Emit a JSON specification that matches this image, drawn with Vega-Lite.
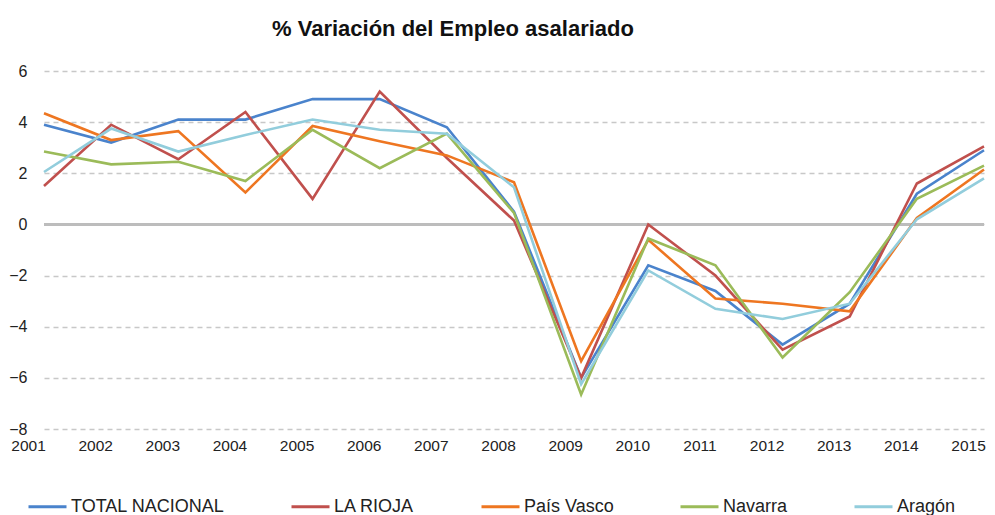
{
  "$schema": "https://vega.github.io/schema/vega-lite/v6.json",
  "autosize": "none",
  "width": 940,
  "height": 358,
  "padding": {"left": 44, "top": 71, "right": 11, "bottom": 86},
  "background": "white",
  "config": {
    "view": {"stroke": null},
    "font": "Liberation Sans"
  },
  "title": {
    "text": "% Variación del Empleo asalariado",
    "fontSize": 22,
    "fontWeight": "bold",
    "color": "#111111",
    "anchor": "middle",
    "dx": -61,
    "offset": 22
  },
  "data": {
    "values": [
      {"year": "2001", "serie": "TOTAL NACIONAL", "value": 3.9},
      {"year": "2002", "serie": "TOTAL NACIONAL", "value": 3.2},
      {"year": "2003", "serie": "TOTAL NACIONAL", "value": 4.1},
      {"year": "2004", "serie": "TOTAL NACIONAL", "value": 4.1},
      {"year": "2005", "serie": "TOTAL NACIONAL", "value": 4.9},
      {"year": "2006", "serie": "TOTAL NACIONAL", "value": 4.9},
      {"year": "2007", "serie": "TOTAL NACIONAL", "value": 3.8},
      {"year": "2008", "serie": "TOTAL NACIONAL", "value": 0.5},
      {"year": "2009", "serie": "TOTAL NACIONAL", "value": -6.0},
      {"year": "2010", "serie": "TOTAL NACIONAL", "value": -1.6},
      {"year": "2011", "serie": "TOTAL NACIONAL", "value": -2.6},
      {"year": "2012", "serie": "TOTAL NACIONAL", "value": -4.7},
      {"year": "2013", "serie": "TOTAL NACIONAL", "value": -3.1},
      {"year": "2014", "serie": "TOTAL NACIONAL", "value": 1.2},
      {"year": "2015", "serie": "TOTAL NACIONAL", "value": 2.9},
      {"year": "2001", "serie": "LA RIOJA", "value": 1.5},
      {"year": "2002", "serie": "LA RIOJA", "value": 3.9},
      {"year": "2003", "serie": "LA RIOJA", "value": 2.55},
      {"year": "2004", "serie": "LA RIOJA", "value": 4.4},
      {"year": "2005", "serie": "LA RIOJA", "value": 1.0},
      {"year": "2006", "serie": "LA RIOJA", "value": 5.2},
      {"year": "2007", "serie": "LA RIOJA", "value": 2.6},
      {"year": "2008", "serie": "LA RIOJA", "value": 0.15},
      {"year": "2009", "serie": "LA RIOJA", "value": -6.0},
      {"year": "2010", "serie": "LA RIOJA", "value": 0.0},
      {"year": "2011", "serie": "LA RIOJA", "value": -2.0},
      {"year": "2012", "serie": "LA RIOJA", "value": -4.9},
      {"year": "2013", "serie": "LA RIOJA", "value": -3.6},
      {"year": "2014", "serie": "LA RIOJA", "value": 1.6},
      {"year": "2015", "serie": "LA RIOJA", "value": 3.05},
      {"year": "2001", "serie": "País Vasco", "value": 4.35},
      {"year": "2002", "serie": "País Vasco", "value": 3.3},
      {"year": "2003", "serie": "País Vasco", "value": 3.65},
      {"year": "2004", "serie": "País Vasco", "value": 1.25},
      {"year": "2005", "serie": "País Vasco", "value": 3.85},
      {"year": "2006", "serie": "País Vasco", "value": 3.25},
      {"year": "2007", "serie": "País Vasco", "value": 2.7},
      {"year": "2008", "serie": "País Vasco", "value": 1.65},
      {"year": "2009", "serie": "País Vasco", "value": -5.35},
      {"year": "2010", "serie": "País Vasco", "value": -0.6},
      {"year": "2011", "serie": "País Vasco", "value": -2.9},
      {"year": "2012", "serie": "País Vasco", "value": -3.1},
      {"year": "2013", "serie": "País Vasco", "value": -3.4},
      {"year": "2014", "serie": "País Vasco", "value": 0.25},
      {"year": "2015", "serie": "País Vasco", "value": 2.15},
      {"year": "2001", "serie": "Navarra", "value": 2.85},
      {"year": "2002", "serie": "Navarra", "value": 2.35},
      {"year": "2003", "serie": "Navarra", "value": 2.45},
      {"year": "2004", "serie": "Navarra", "value": 1.7},
      {"year": "2005", "serie": "Navarra", "value": 3.7},
      {"year": "2006", "serie": "Navarra", "value": 2.2},
      {"year": "2007", "serie": "Navarra", "value": 3.55},
      {"year": "2008", "serie": "Navarra", "value": 0.45},
      {"year": "2009", "serie": "Navarra", "value": -6.65},
      {"year": "2010", "serie": "Navarra", "value": -0.55},
      {"year": "2011", "serie": "Navarra", "value": -1.6},
      {"year": "2012", "serie": "Navarra", "value": -5.2},
      {"year": "2013", "serie": "Navarra", "value": -2.65},
      {"year": "2014", "serie": "Navarra", "value": 1.0},
      {"year": "2015", "serie": "Navarra", "value": 2.3},
      {"year": "2001", "serie": "Aragón", "value": 2.05},
      {"year": "2002", "serie": "Aragón", "value": 3.75},
      {"year": "2003", "serie": "Aragón", "value": 2.85},
      {"year": "2004", "serie": "Aragón", "value": 3.5},
      {"year": "2005", "serie": "Aragón", "value": 4.1},
      {"year": "2006", "serie": "Aragón", "value": 3.7},
      {"year": "2007", "serie": "Aragón", "value": 3.55},
      {"year": "2008", "serie": "Aragón", "value": 1.45},
      {"year": "2009", "serie": "Aragón", "value": -6.25},
      {"year": "2010", "serie": "Aragón", "value": -1.8},
      {"year": "2011", "serie": "Aragón", "value": -3.3},
      {"year": "2012", "serie": "Aragón", "value": -3.7},
      {"year": "2013", "serie": "Aragón", "value": -3.1},
      {"year": "2014", "serie": "Aragón", "value": 0.2},
      {"year": "2015", "serie": "Aragón", "value": 1.8}
    ]
  },
  "layer": [
    {
      "mark": {"type": "rule", "color": "#bdbdbd", "strokeWidth": 2.5},
      "encoding": {"y": {"datum": 0, "type": "quantitative"}}
    },
    {
      "mark": {"type": "line", "strokeWidth": 2.6, "strokeJoin": "miter"},
      "encoding": {
        "x": {
          "field": "year",
          "type": "ordinal",
          "scale": {"type": "point", "padding": 0},
          "axis": {
            "title": null,
            "domain": false,
            "ticks": false,
            "grid": false,
            "labelAngle": 0,
            "labelOffset": -16,
            "labelPadding": 9,
            "labelFontSize": 15.5,
            "labelColor": "#222222"
          }
        },
        "y": {
          "field": "value",
          "type": "quantitative",
          "scale": {"domain": [-8, 6], "nice": false, "zero": false},
          "axis": {
            "title": null,
            "values": [-8, -6, -4, -2, 0, 2, 4, 6],
            "domain": false,
            "ticks": false,
            "grid": true,
            "gridDash": [5, 4],
            "gridColor": "#c8c8c8",
            "gridWidth": 1.5,
            "labelPadding": 17,
            "labelFontSize": 16,
            "labelColor": "#222222"
          }
        },
        "color": {
          "field": "serie",
          "type": "nominal",
          "sort": ["TOTAL NACIONAL", "LA RIOJA", "País Vasco", "Navarra", "Aragón"],
          "scale": {
            "domain": ["TOTAL NACIONAL", "LA RIOJA", "País Vasco", "Navarra", "Aragón"],
            "range": ["#4a83cc", "#c0504d", "#ee7621", "#9bbb59", "#92cddc"]
          },
          "legend": {
            "title": null,
            "orient": "none",
            "direction": "horizontal",
            "legendX": -17,
            "legendY": 415,
            "padding": 0,
            "symbolType": "stroke",
            "symbolSize": 1444,
            "symbolStrokeWidth": 3,
            "labelFontSize": 18,
            "labelColor": "#222222",
            "labelOffset": 3,
            "columnPadding": 60,
            "labelLimit": 300
          }
        }
      }
    }
  ]
}
